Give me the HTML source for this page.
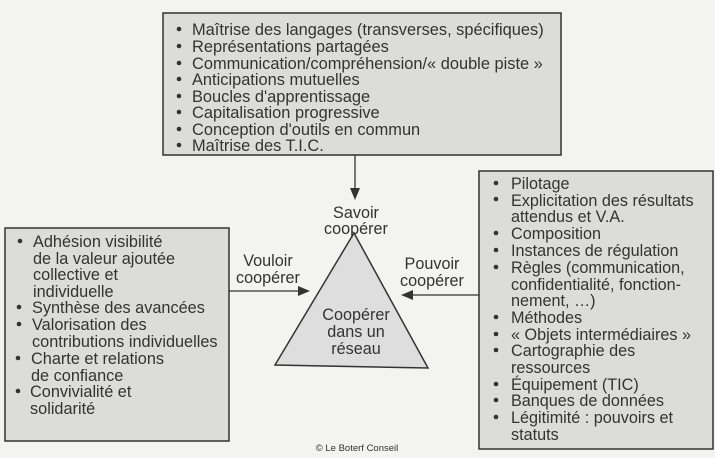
<!DOCTYPE html>
<html><head><meta charset="utf-8"><style>
html,body{margin:0;padding:0;background:#f3f3f1;}
svg{display:block;font-family:"Liberation Sans",Arial,sans-serif;}
</style></head><body>
<svg width="715" height="458" viewBox="0 0 715 458">
<rect width="715" height="458" fill="#f3f3f1"/>
<!-- top box -->
<rect x="163" y="13" width="398" height="142" fill="#dcdcda" stroke="#333" stroke-width="1.5"/>
<g font-size="16.4" fill="#333">
<g fill="#333"><circle cx="179" cy="29" r="2.3"/><circle cx="179" cy="46" r="2.3"/><circle cx="179" cy="63" r="2.3"/><circle cx="179" cy="79" r="2.3"/><circle cx="179" cy="96" r="2.3"/><circle cx="179" cy="112" r="2.3"/><circle cx="179" cy="129" r="2.3"/><circle cx="179" cy="145" r="2.3"/></g>
<text x="192" y="35">Maîtrise des langages (transverses, spécifiques)</text>
<text x="192" y="52">Représentations partagées</text>
<text x="192" y="69">Communication/compréhension/« double piste »</text>
<text x="192" y="85">Anticipations mutuelles</text>
<text x="192" y="102">Boucles d'apprentissage</text>
<text x="192" y="118">Capitalisation progressive</text>
<text x="192" y="135">Conception d'outils en commun</text>
<text x="192" y="151">Maîtrise des T.I.C.</text>
</g>
<!-- left box -->
<rect x="5" y="228" width="224" height="213" fill="#dcdcda" stroke="#333" stroke-width="1.5"/>
<g font-size="16.3" fill="#333">
<circle cx="20" cy="241" r="2.3"/><circle cx="19" cy="307" r="2.3"/><circle cx="19" cy="324" r="2.3"/><circle cx="18" cy="358" r="2.3"/><circle cx="18" cy="391" r="2.3"/>
<text x="33" y="247">Adhésion visibilité</text>
<text x="33" y="264">de la valeur ajoutée</text>
<text x="33" y="280">collective et</text>
<text x="33" y="297">individuelle</text>
<text x="32" y="313">Synthèse des avancées</text>
<text x="32" y="330">Valorisation des</text>
<text x="32" y="347">contributions individuelles</text>
<text x="31" y="364">Charte et relations</text>
<text x="31" y="381">de confiance</text>
<text x="30" y="397">Convivialité et</text>
<text x="30" y="414">solidarité</text>
</g>
<!-- right box -->
<rect x="479" y="171" width="234" height="278" fill="#dcdcda" stroke="#333" stroke-width="1.5"/>
<g font-size="16.2" fill="#333">
<circle cx="496" cy="183" r="2.3"/><circle cx="496" cy="199" r="2.3"/><circle cx="496" cy="233" r="2.3"/><circle cx="496" cy="250" r="2.3"/><circle cx="496" cy="267" r="2.3"/><circle cx="496" cy="317" r="2.3"/><circle cx="496" cy="334" r="2.3"/><circle cx="496" cy="350" r="2.3"/><circle cx="496" cy="384" r="2.3"/><circle cx="496" cy="400" r="2.3"/><circle cx="496" cy="417" r="2.3"/>
<text x="511" y="189">Pilotage</text>
<text x="511" y="206">Explicitation des résultats</text>
<text x="511" y="222">attendus et V.A.</text>
<text x="511" y="239">Composition</text>
<text x="511" y="256">Instances de régulation</text>
<text x="511" y="273">Règles (communication,</text>
<text x="511" y="290">confidentialité, fonction-</text>
<text x="511" y="306">nement, …)</text>
<text x="511" y="323">Méthodes</text>
<text x="511" y="340">« Objets intermédiaires »</text>
<text x="511" y="356">Cartographie des</text>
<text x="511" y="373">ressources</text>
<text x="511" y="390">Équipement (TIC)</text>
<text x="511" y="406">Banques de données</text>
<text x="511" y="423">Légitimité : pouvoirs et</text>
<text x="511" y="440">statuts</text>
</g>
<!-- triangle -->
<polygon points="354,233 275,365 428,368" fill="#dedede" stroke="#333" stroke-width="1.5"/>
<g font-size="16.2" fill="#333" text-anchor="middle">
<text x="356" y="218">Savoir</text>
<text x="356" y="234">coopérer</text>
<text x="268" y="266">Vouloir</text>
<text x="268" y="283">coopérer</text>
<text x="432" y="269">Pouvoir</text>
<text x="432" y="286">coopérer</text>
<text x="356" y="320">Coopérer</text>
<text x="356" y="337">dans un</text>
<text x="356" y="354">réseau</text>
</g>
<!-- arrows -->
<g stroke="#333" stroke-width="1.3" fill="none">
<line x1="355" y1="155" x2="355" y2="195"/>
<line x1="229" y1="291" x2="305" y2="291"/>
<line x1="479" y1="295" x2="405" y2="295"/>
</g>
<g fill="#333">
<polygon points="355,200 350,188 360,188"/>
<polygon points="310,291 298,286 298,296"/>
<polygon points="401,295 413,290 413,300"/>
</g>
<text x="357" y="451" font-size="9.5" fill="#333" text-anchor="middle">© Le Boterf Conseil</text>
</svg>
</body></html>
